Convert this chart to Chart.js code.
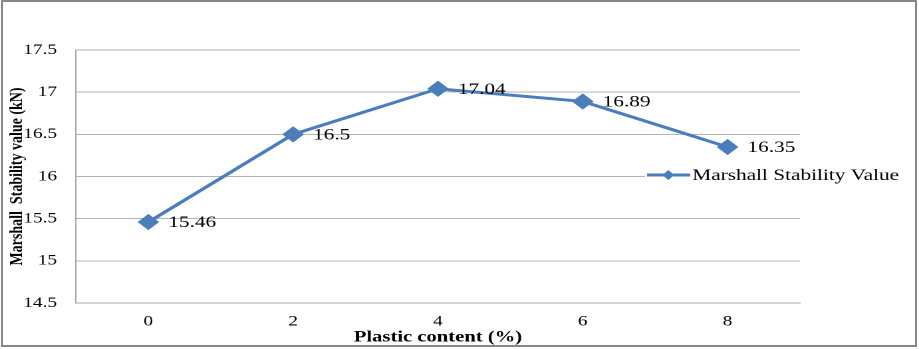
<!DOCTYPE html>
<html><head><meta charset="utf-8">
<script src="https://cdn.jsdelivr.net/npm/chart.js@4/dist/chart.umd.min.js"></script>
<style>
html,body{margin:0;padding:0;background:#fff;overflow:hidden}
#wrap{width:919px;height:349px;position:relative;overflow:hidden;background:#fff}
#c{position:absolute;left:0;top:0;width:691px;height:349px;transform:scaleX(1.33);transform-origin:0 0}
#frame{position:absolute;left:1px;top:0;width:916px;height:347px;border:2px solid #868686;box-sizing:border-box;pointer-events:none}
</style>
</head><body><div id="wrap"><canvas id="c" width="691" height="349"></canvas><div id="frame"></div></div>
<script>
const categories = ['0', '2', '4', '6', '8'];
const stabilityValues = [15.46, 16.5, 17.04, 16.89, 16.35];
const valueLabels = ['15.46', '16.5', '17.04', '16.89', '16.35'];
const yTickLabels = ['14.5', '15', '15.5', '16', '16.5', '17', '17.5'];
const seriesName = 'Marshall Stability Value';
const xTitle = 'Plastic content (%)';
const yTitle = 'Marshall  Stability value (kN)';

const BLUE = '#4a7ebb';
const SERIF = "'Liberation Serif', 'Times New Roman', serif";

const dataLabels = {
  id: 'dataLabels',
  afterDatasetsDraw(chart) {
    const ctx = chart.ctx;
    const meta = chart.getDatasetMeta(0);
    ctx.save();
    ctx.font = '16px ' + SERIF;
    ctx.fillStyle = '#000';
    ctx.textAlign = 'left';
    ctx.textBaseline = 'middle';
    meta.data.forEach((pt, i) => {
      ctx.fillText(valueLabels[i], pt.x + 15, pt.y + 1);
    });
    ctx.restore();
  }
};

const sideLegend = {
  id: 'sideLegend',
  afterDraw(chart) {
    const ctx = chart.ctx;
    const y = 175;
    ctx.save();
    ctx.fillStyle = '#fff';
    ctx.fillRect(485, y - 10, 200, 20);
    ctx.strokeStyle = BLUE;
    ctx.lineWidth = 3;
    ctx.beginPath();
    ctx.moveTo(486.5, y);
    ctx.lineTo(519, y);
    ctx.stroke();
    ctx.fillStyle = BLUE;
    ctx.beginPath();
    ctx.moveTo(502.5, y - 5);
    ctx.lineTo(507, y);
    ctx.lineTo(502.5, y + 5);
    ctx.lineTo(498, y);
    ctx.closePath();
    ctx.fill();
    ctx.fillStyle = '#000';
    ctx.font = '16px ' + SERIF;
    ctx.textBaseline = 'middle';
    ctx.fillText(seriesName, 520.5, y + 1);
    ctx.restore();
  }
};

new Chart(document.getElementById('c'), {
  type: 'line',
  data: {
    labels: categories,
    datasets: [{
      label: seriesName,
      data: stabilityValues,
      borderColor: BLUE,
      backgroundColor: BLUE,
      borderWidth: 3,
      pointStyle: 'rectRot',
      pointRadius: 6,
      pointHoverRadius: 6,
      tension: 0
    }]
  },
  options: {
    responsive: false,
    maintainAspectRatio: false,
    animation: false,
    devicePixelRatio: 2,
    layout: { padding: { top: 50, right: 89.5, bottom: 0, left: 0 } },
    plugins: { legend: { display: false }, tooltip: { enabled: false } },
    scales: {
      x: {
        offset: true,
        grid: { display: false, drawTicks: false },
        border: { display: true, color: '#a6a6a6', width: 1 },
        ticks: { color: '#000', font: { family: SERIF, size: 14.5 }, padding: 10 },
        title: { display: true, text: xTitle, color: '#000', font: { family: SERIF, size: 15.5, weight: 'bold' }, padding: { top: 0, bottom: 2 } },
        afterFit(s) { s.height = 46; }
      },
      y: {
        min: 14.5, max: 17.5,
        ticks: {
          stepSize: 0.5, color: '#000', font: { family: SERIF, size: 14.5 }, padding: 14.2,
          callback: (v, i) => yTickLabels[i]
        },
        grid: { color: '#b3b3b3', drawTicks: false },
        border: { display: true, color: '#a6a6a6', width: 1 },
        title: { display: true, text: yTitle, color: '#000', font: { family: SERIF, size: 14, weight: 'bold' }, padding: { top: 4.4, bottom: 0 } },
        afterFit(s) { s.width = 57.1; }
      }
    }
  },
  plugins: [dataLabels, sideLegend]
});
</script></body></html>
